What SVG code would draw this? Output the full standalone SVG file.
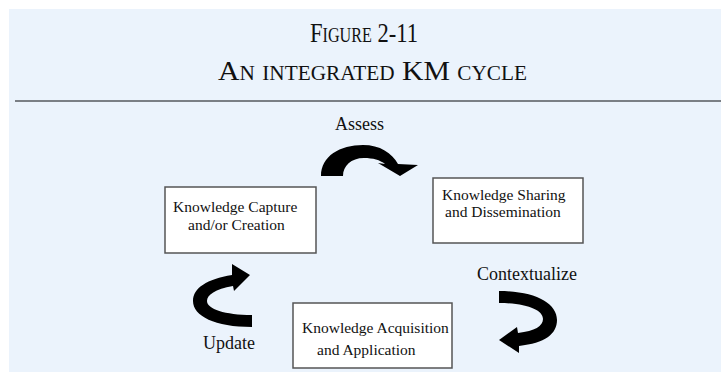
<svg xmlns="http://www.w3.org/2000/svg" width="721" height="372" viewBox="0 0 721 372">
<style>
.title{font-family:"Liberation Serif","Times New Roman",serif;font-size:28px;font-variant:small-caps;fill:#111}
.box{fill:#ffffff;stroke:#555555;stroke-width:1.5}
.bt{font-family:"Liberation Serif","Times New Roman",serif;font-size:15.5px;fill:#111}
.lbl{font-family:"Liberation Serif","Times New Roman",serif;font-size:18px;fill:#111}
.arr{fill:#000000;stroke:none}
</style>
<rect x="0" y="0" width="721" height="372" fill="#ffffff"/>
<rect x="9" y="9" width="712" height="363" fill="#ebf3fc"/>
<g id="title">
<text class="title" x="310" y="42" textLength="108" lengthAdjust="spacingAndGlyphs">Figure 2-11</text>
<text class="title" x="218" y="80" textLength="309" lengthAdjust="spacingAndGlyphs">An integrated KM cycle</text>
<line x1="15" y1="101" x2="721" y2="101" stroke="#7a7f85" stroke-width="2"/>
</g>
<g id="capture">
<rect class="box" x="165" y="187" width="151" height="66"/>
<text class="bt" x="173" y="212">Knowledge Capture</text>
<text class="bt" x="188" y="230">and/or Creation</text>
</g>
<g id="sharing">
<rect class="box" x="433" y="178" width="150" height="65"/>
<text class="bt" x="442" y="200">Knowledge Sharing</text>
<text class="bt" x="445" y="217">and Dissemination</text>
</g>
<g id="acquisition">
<rect class="box" x="293" y="303" width="159" height="65"/>
<text class="bt" x="302" y="333">Knowledge Acquisition</text>
<text class="bt" x="317" y="355">and Application</text>
</g>
<g id="connectors">
<g id="assess">
<path class="arr" d="M321,176 C321,156 340,145 363,145 C380,145 392,153 398,164 L418,165 L400,176 L378,163 L385,164 C380,160 373,158 364,158 C351,158 343,166 343,176 Z"/>
<text class="lbl" x="335" y="130">Assess</text>
</g>
<g id="contextualize">
<path class="arr" d="M499,291 C535,291 557,303 557,320 C557,334 545,343 519,346 L519,353 L499,340 L517,327 L518,333 C535,331 543,326 543,319 C543,310 527,303 499,303 Z"/>
<text class="lbl" x="477" y="280">Contextualize</text>
</g>
<g id="update">
<path class="arr" d="M252,327 C215,327 193,316 193,301 C193,288 207,279 232,275 L232,264 L250,275 L234,291 L233,286 C215,289 207,295 207,301 C207,309 225,315 252,315 Z"/>
<text class="lbl" x="203" y="349">Update</text>
</g>
</g>
</svg>
